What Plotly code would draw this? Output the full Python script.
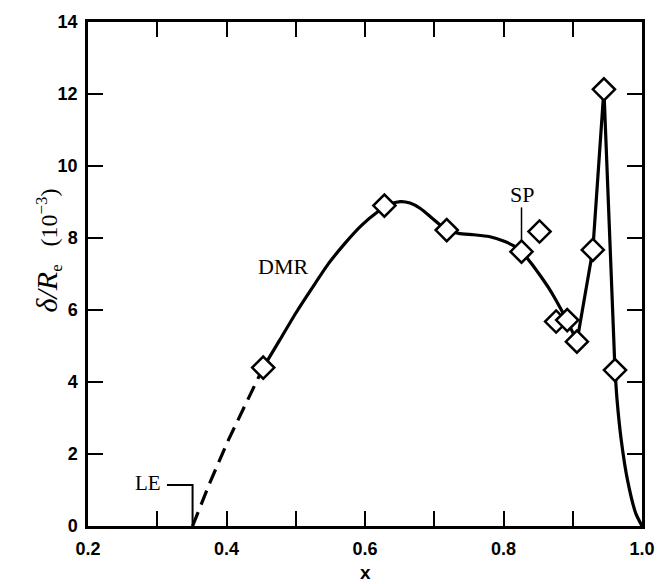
import plotly.graph_objects as go

# Boundary-layer thickness along the surface, delta/R (x 10^-3)
# Measured points (diamonds)
x_meas = [0.453, 0.628, 0.718, 0.826, 0.852, 0.876, 0.892, 0.906, 0.929, 0.945, 0.961]
y_meas = [4.40, 8.90, 8.22, 7.62, 8.18, 5.68, 5.72, 5.12, 7.67, 12.13, 4.33]

# Extrapolated part from the leading edge (dashed)
x_lead = [0.351, 0.377, 0.403, 0.429, 0.453]
y_lead = [0.00, 1.25, 2.40, 3.45, 4.40]

# DMR faired curve (solid)
x_dmr = [0.453, 0.477, 0.500, 0.524, 0.547, 0.571, 0.595, 0.618, 0.635, 0.651,
         0.665, 0.680, 0.697, 0.718, 0.735, 0.757, 0.779, 0.802, 0.815, 0.826,
         0.840, 0.854, 0.865, 0.875, 0.885, 0.895, 0.906]
y_dmr = [4.40, 5.17, 5.91, 6.62, 7.28, 7.85, 8.35, 8.72, 8.93, 9.01,
         8.97, 8.82, 8.55, 8.22, 8.13, 8.09, 8.04, 7.90, 7.78, 7.62,
         7.30, 6.93, 6.62, 6.30, 5.95, 5.58, 5.12]

# Spike near the trailing edge (straight segments)
x_spike = [0.906, 0.929, 0.945, 0.961]
y_spike = [5.12, 7.67, 12.13, 4.33]

# Decay to the trailing edge
x_tail = [0.961, 0.964, 0.970, 0.979, 0.991, 1.000]
y_tail = [4.33, 3.50, 2.39, 1.28, 0.35, 0.00]

# Axis ticks
x_ticks = [0.2, 0.4, 0.6, 0.8, 1.0]
x_ticklabels = ["0.2", "0.4", "0.6", "0.8", "1.0"]
x_minor_step = 0.1
y_ticks = [0, 2, 4, 6, 8, 10, 12, 14]
y_ticklabels = ["0", "2", "4", "6", "8", "10", "12", "14"]

# Annotation anchors
sp_x, sp_y0, sp_y1 = 0.826, 7.9, 8.85
le_x, le_y = 0.351, 1.14

line_w = 3.2
fig = go.Figure()
fig.add_trace(go.Scatter(x=x_lead, y=y_lead, mode="lines",
                         line=dict(color="black", width=line_w, dash="15px,8px")))
fig.add_trace(go.Scatter(x=x_dmr, y=y_dmr, mode="lines",
                         line=dict(color="black", width=line_w, shape="spline", smoothing=0.6)))
fig.add_trace(go.Scatter(x=x_spike, y=y_spike, mode="lines",
                         line=dict(color="black", width=line_w)))
fig.add_trace(go.Scatter(x=x_tail, y=y_tail, mode="lines",
                         line=dict(color="black", width=line_w, shape="spline", smoothing=0.6)))
# SP marker line and LE leader
fig.add_trace(go.Scatter(x=[sp_x, sp_x], y=[sp_y0, sp_y1], mode="lines",
                         line=dict(color="black", width=1.5)))
fig.add_trace(go.Scatter(x=[0.314, le_x, le_x], y=[le_y, le_y, 0], mode="lines",
                         line=dict(color="black", width=2)))
fig.add_trace(go.Scatter(x=x_meas, y=y_meas, mode="markers",
                         marker=dict(symbol="diamond", size=17, color="white",
                                     line=dict(color="black", width=2.5))))

serif = "Liberation Serif"
fig.add_annotation(x=0.481, y=7.2, text="DMR", showarrow=False,
                   font=dict(family=serif, size=22, color="black"))
fig.add_annotation(x=sp_x, y=9.2, text="SP", showarrow=False,
                   font=dict(family=serif, size=22, color="black"))
fig.add_annotation(x=0.287, y=1.19, text="LE", showarrow=False,
                   font=dict(family=serif, size=21, color="black"))

fig.add_annotation(xref="paper", yref="paper", x=-0.108, y=0.547,
                   text="<span style='font-size:30px'><i>δ/R</i></span><sub>e</sub>"
                        "   (10<sup>−3</sup>)",
                   textangle=-90, showarrow=False,
                   font=dict(family=serif, size=24, color="black"))
fig.add_annotation(xref="paper", yref="paper", x=0.5, y=-0.093, text="x",
                   showarrow=False, yanchor="middle",
                   font=dict(family="Liberation Sans", size=19, color="black", weight="bold"))

axis_common = dict(showline=True, linecolor="black", linewidth=2.5, mirror="ticks",
                   ticks="inside", ticklen=15, tickwidth=2, tickcolor="black",
                   showgrid=False, zeroline=False,
                   tickfont=dict(family="Liberation Sans", size=18, color="black", weight="bold"))

fig.update_layout(
    width=667, height=584,
    margin=dict(l=88, r=14, t=21, b=58),
    plot_bgcolor="white", paper_bgcolor="white",
    showlegend=False,
    xaxis=dict(range=[0.2, 1.0], tickvals=x_ticks, ticktext=x_ticklabels,
               minor=dict(ticks="inside", ticklen=15, tickwidth=2, tickcolor="black",
                          dtick=x_minor_step, tick0=0.2, showgrid=False),
               **axis_common),
    yaxis=dict(range=[0, 14], tickvals=y_ticks, ticktext=y_ticklabels, **axis_common),
)
fig.update_xaxes(ticklabelstandoff=5)
fig.update_yaxes(ticklabelstandoff=4)

fig.write_html("out.html")
